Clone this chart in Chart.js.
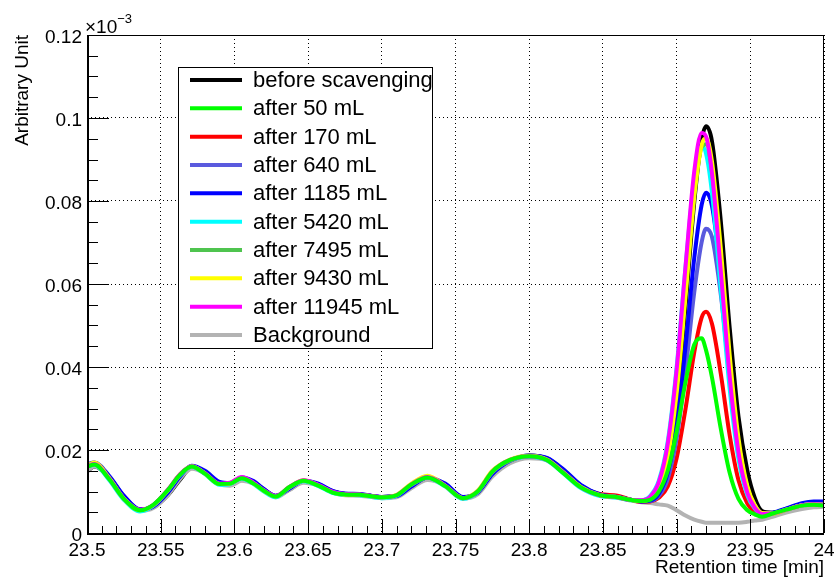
<!DOCTYPE html>
<html>
<head>
<meta charset="utf-8">
<script src="https://cdn.jsdelivr.net/npm/chart.js@4.4.1/dist/chart.umd.min.js"></script>
<style>
    html, body { margin: 0; padding: 0; background: #fff; }
    #wrap { width: 834px; height: 581px; }
</style>
</head>
<body>
<div id="wrap"><canvas id="chromatogram" width="834" height="581"></canvas></div>
<script>
// retention time [min], shared by every trace
const retentionTime = [
    23.500, 23.505, 23.515, 23.525, 23.536, 23.545, 23.555, 23.563, 23.571, 23.580,
    23.590, 23.597, 23.605, 23.613, 23.620, 23.628, 23.637, 23.647, 23.657, 23.667,
    23.675, 23.685, 23.700, 23.710, 23.720, 23.731, 23.743, 23.755, 23.765, 23.775,
    23.787, 23.800, 23.812, 23.823, 23.835, 23.848, 23.860, 23.868, 23.876, 23.882,
    23.888, 23.894, 23.900, 23.906, 23.912, 23.917, 23.920, 23.924, 23.930, 23.936,
    23.942, 23.948, 23.953, 23.958, 23.965, 23.975, 23.985, 23.993, 24.000
];

// signal in units of 1e-3
const beforeScavenging = [
    0.0148, 0.0160, 0.0135, 0.0088, 0.0056, 0.0062, 0.0092, 0.0128, 0.0157, 0.0146,
    0.0120, 0.0117, 0.0128, 0.0122, 0.0105, 0.0089, 0.0104, 0.0124, 0.0117, 0.0100,
    0.0094, 0.0093, 0.0087, 0.0089, 0.0111, 0.0132, 0.0117, 0.0086, 0.0096, 0.0140,
    0.0172, 0.0187, 0.0180, 0.0152, 0.0114, 0.0092, 0.0087, 0.0081, 0.0077, 0.0081,
    0.0105, 0.0172, 0.0317, 0.0544, 0.0798, 0.0947, 0.0980, 0.0944, 0.0751, 0.0495,
    0.0280, 0.0150, 0.0085, 0.0053, 0.0049, 0.0058, 0.0068, 0.0071, 0.0070
];
const after50 = [
    0.0160, 0.0165, 0.0130, 0.0082, 0.0055, 0.0068, 0.0104, 0.0140, 0.0160, 0.0143,
    0.0118, 0.0119, 0.0132, 0.0119, 0.0102, 0.0088, 0.0110, 0.0126, 0.0114, 0.0097,
    0.0093, 0.0092, 0.0086, 0.0091, 0.0117, 0.0134, 0.0113, 0.0084, 0.0100, 0.0148,
    0.0176, 0.0185, 0.0176, 0.0145, 0.0110, 0.0091, 0.0086, 0.0080, 0.0077, 0.0080,
    0.0100, 0.0150, 0.0244, 0.0363, 0.0454, 0.0469, 0.0440, 0.0375, 0.0251, 0.0145,
    0.0082, 0.0055, 0.0045, 0.0039, 0.0047, 0.0057, 0.0066, 0.0068, 0.0066
];
const after170 = [
    0.0162, 0.0166, 0.0132, 0.0084, 0.0056, 0.0066, 0.0101, 0.0138, 0.0160, 0.0145,
    0.0119, 0.0120, 0.0133, 0.0121, 0.0104, 0.0089, 0.0108, 0.0126, 0.0116, 0.0099,
    0.0094, 0.0093, 0.0086, 0.0090, 0.0115, 0.0133, 0.0115, 0.0085, 0.0099, 0.0146,
    0.0175, 0.0185, 0.0178, 0.0150, 0.0113, 0.0094, 0.0090, 0.0081, 0.0075, 0.0076,
    0.0085, 0.0112, 0.0180, 0.0298, 0.0436, 0.0519, 0.0533, 0.0504, 0.0383, 0.0236,
    0.0127, 0.0071, 0.0051, 0.0041, 0.0047, 0.0057, 0.0067, 0.0069, 0.0068
];
const after640 = [
    0.0163, 0.0168, 0.0135, 0.0087, 0.0056, 0.0065, 0.0100, 0.0137, 0.0161, 0.0147,
    0.0121, 0.0120, 0.0133, 0.0122, 0.0104, 0.0089, 0.0107, 0.0126, 0.0117, 0.0099,
    0.0094, 0.0093, 0.0086, 0.0090, 0.0114, 0.0134, 0.0116, 0.0086, 0.0099, 0.0145,
    0.0175, 0.0186, 0.0179, 0.0151, 0.0114, 0.0092, 0.0087, 0.0080, 0.0076, 0.0077,
    0.0090, 0.0130, 0.0227, 0.0389, 0.0581, 0.0701, 0.0733, 0.0713, 0.0574, 0.0376,
    0.0208, 0.0107, 0.0066, 0.0048, 0.0048, 0.0059, 0.0070, 0.0073, 0.0073
];
const after1185 = [
    0.0165, 0.0170, 0.0138, 0.0090, 0.0057, 0.0064, 0.0098, 0.0136, 0.0162, 0.0150,
    0.0123, 0.0120, 0.0134, 0.0125, 0.0106, 0.0090, 0.0106, 0.0126, 0.0119, 0.0101,
    0.0095, 0.0094, 0.0087, 0.0089, 0.0112, 0.0134, 0.0119, 0.0087, 0.0097, 0.0142,
    0.0174, 0.0187, 0.0181, 0.0154, 0.0116, 0.0093, 0.0087, 0.0081, 0.0076, 0.0078,
    0.0095, 0.0145, 0.0260, 0.0448, 0.0663, 0.0791, 0.0820, 0.0788, 0.0622, 0.0399,
    0.0216, 0.0109, 0.0067, 0.0048, 0.0049, 0.0060, 0.0072, 0.0076, 0.0076
];
const after5420 = [
    0.0161, 0.0164, 0.0128, 0.0080, 0.0052, 0.0066, 0.0103, 0.0139, 0.0159, 0.0142,
    0.0116, 0.0118, 0.0131, 0.0118, 0.0100, 0.0086, 0.0109, 0.0125, 0.0113, 0.0096,
    0.0092, 0.0091, 0.0084, 0.0090, 0.0116, 0.0133, 0.0112, 0.0082, 0.0099, 0.0147,
    0.0175, 0.0184, 0.0175, 0.0144, 0.0108, 0.0089, 0.0085, 0.0079, 0.0079, 0.0089,
    0.0127, 0.0221, 0.0399, 0.0639, 0.0854, 0.0932, 0.0914, 0.0820, 0.0587, 0.0347,
    0.0178, 0.0091, 0.0059, 0.0045, 0.0047, 0.0057, 0.0067, 0.0069, 0.0068
];
const after7495 = [
    0.0160, 0.0165, 0.0131, 0.0083, 0.0055, 0.0067, 0.0103, 0.0140, 0.0160, 0.0143,
    0.0118, 0.0119, 0.0132, 0.0120, 0.0102, 0.0088, 0.0109, 0.0126, 0.0115, 0.0098,
    0.0093, 0.0092, 0.0086, 0.0091, 0.0116, 0.0134, 0.0114, 0.0084, 0.0100, 0.0147,
    0.0175, 0.0185, 0.0177, 0.0147, 0.0111, 0.0091, 0.0086, 0.0080, 0.0078, 0.0084,
    0.0113, 0.0190, 0.0349, 0.0581, 0.0817, 0.0930, 0.0937, 0.0871, 0.0656, 0.0405,
    0.0213, 0.0107, 0.0065, 0.0047, 0.0047, 0.0057, 0.0067, 0.0069, 0.0068
];
const after9430 = [
    0.0162, 0.0170, 0.0133, 0.0083, 0.0055, 0.0067, 0.0104, 0.0141, 0.0161, 0.0144,
    0.0118, 0.0120, 0.0133, 0.0120, 0.0102, 0.0088, 0.0110, 0.0127, 0.0115, 0.0098,
    0.0093, 0.0092, 0.0086, 0.0092, 0.0119, 0.0138, 0.0114, 0.0084, 0.0102, 0.0150,
    0.0177, 0.0186, 0.0177, 0.0147, 0.0111, 0.0091, 0.0086, 0.0080, 0.0077, 0.0083,
    0.0109, 0.0183, 0.0336, 0.0567, 0.0810, 0.0935, 0.0951, 0.0895, 0.0685, 0.0429,
    0.0228, 0.0113, 0.0068, 0.0048, 0.0047, 0.0057, 0.0067, 0.0069, 0.0068
];
const after11945 = [
    0.0161, 0.0166, 0.0131, 0.0083, 0.0056, 0.0068, 0.0105, 0.0141, 0.0161, 0.0144,
    0.0119, 0.0121, 0.0135, 0.0121, 0.0103, 0.0089, 0.0110, 0.0127, 0.0116, 0.0099,
    0.0094, 0.0093, 0.0086, 0.0091, 0.0117, 0.0135, 0.0114, 0.0084, 0.0100, 0.0148,
    0.0176, 0.0185, 0.0176, 0.0146, 0.0110, 0.0091, 0.0086, 0.0080, 0.0079, 0.0087,
    0.0123, 0.0215, 0.0393, 0.0640, 0.0872, 0.0964, 0.0955, 0.0867, 0.0630, 0.0377,
    0.0194, 0.0097, 0.0061, 0.0046, 0.0047, 0.0057, 0.0067, 0.0069, 0.0068
];
const background = [
    0.0150, 0.0160, 0.0134, 0.0087, 0.0053, 0.0060, 0.0092, 0.0130, 0.0155, 0.0144,
    0.0117, 0.0114, 0.0126, 0.0119, 0.0103, 0.0086, 0.0103, 0.0121, 0.0114, 0.0097,
    0.0091, 0.0090, 0.0084, 0.0086, 0.0108, 0.0128, 0.0115, 0.0083, 0.0093, 0.0136,
    0.0168, 0.0180, 0.0175, 0.0148, 0.0112, 0.0090, 0.0085, 0.0079, 0.0074, 0.0072,
    0.0069, 0.0066, 0.0055, 0.0042, 0.0032, 0.0027, 0.0025, 0.0025, 0.0025, 0.0025,
    0.0025, 0.0027, 0.0030, 0.0032, 0.0039, 0.0050, 0.0058, 0.0062, 0.0063
];

const traceLabels = [
    "before scavenging", "after 50 mL", "after 170 mL", "after 640 mL", "after 1185 mL",
    "after 5420 mL", "after 7495 mL", "after 9430 mL", "after 11945 mL", "Background"
];
const traceValues = [
    beforeScavenging, after50, after170, after640, after1185,
    after5420, after7495, after9430, after11945, background
];
const traceColors = [
    "#000000", "#00ff00", "#ff0000", "#5a5ade", "#0000ff",
    "#00ffff", "#4fc44f", "#ffff00", "#ff00ff", "#b3b3b3"
];
// lower = drawn on top
const traceOrder = [9, 0, 7, 6, 5, 4, 3, 2, 1, 8];

const FONT = "'Liberation Sans', Arial, Helvetica, sans-serif";

const datasets = traceLabels.map((label, idx) => {
    return {
        label: label,
        data: retentionTime.map((t, i) => ({ x: t, y: traceValues[idx][i] })),
        borderColor: traceColors[idx],
        backgroundColor: traceColors[idx],
        borderWidth: 4,
        pointRadius: 0,
        cubicInterpolationMode: 'monotone',
        fill: false,
        order: traceOrder[idx]
    };
});

// ROOT style frame, inward ticks, exponent and legend box
const rootDecor = {
    id: 'rootDecor',
    afterDraw(chart)
    {
        const ctx = chart.ctx;
        const area = chart.chartArea;
        const xs = chart.scales.x;
        const ys = chart.scales.y;

        ctx.save();
        ctx.strokeStyle = '#000';
        ctx.lineWidth = 1;

        // y ticks: major every 0.02, minor every 0.005
        for (let k = 0; k <= 24; k++)
        {
            const py = Math.round(ys.getPixelForValue(k * 0.005)) + 0.5;
            const len = (k % 4 === 0) ? 22 : 11;
            ctx.beginPath();
            ctx.moveTo(area.left, py);
            ctx.lineTo(area.left + len, py);
            ctx.stroke();
        }
        // x ticks: major every 0.05, minor every 0.01
        for (let k = 0; k <= 50; k++)
        {
            const px = Math.round(xs.getPixelForValue(23.5 + k * 0.01)) + 0.5;
            const len = (k % 5 === 0) ? 14 : 7;
            ctx.beginPath();
            ctx.moveTo(px, area.bottom);
            ctx.lineTo(px, area.bottom - len);
            ctx.stroke();
        }

        // frame
        ctx.strokeRect(area.left + 0.5, area.top + 0.5, area.right - area.left - 1, area.bottom - area.top);
        ctx.lineWidth = 2;
        ctx.beginPath();
        ctx.moveTo(area.left + 1, area.top);
        ctx.lineTo(area.left + 1, area.bottom + 1);
        ctx.lineTo(area.right, area.bottom + 1);
        ctx.stroke();

        // exponent
        ctx.fillStyle = '#000';
        ctx.textBaseline = 'alphabetic';
        ctx.textAlign = 'left';
        ctx.font = '19px ' + FONT;
        ctx.fillText('\u00d710', area.left - 2, area.top - 2);
        const w = ctx.measureText('\u00d710').width;
        ctx.font = '13px ' + FONT;
        ctx.fillText('\u22123', area.left - 2 + w, area.top - 12);

        // legend
        const box = { left: 178, top: 67, right: 432, bottom: 348 };
        ctx.fillStyle = '#fff';
        ctx.fillRect(box.left, box.top, box.right - box.left, box.bottom - box.top);
        ctx.lineWidth = 1;
        ctx.strokeRect(box.left + 0.5, box.top + 0.5, box.right - box.left, box.bottom - box.top);
        ctx.font = '22px ' + FONT;
        ctx.textBaseline = 'middle';
        const step = (box.bottom - box.top - 26) / (traceLabels.length - 1);
        chart.data.datasets.forEach((ds, i) => {
            const cy = box.top + 13 + step * i;
            ctx.strokeStyle = ds.borderColor;
            ctx.lineWidth = 4;
            ctx.beginPath();
            ctx.moveTo(190, cy);
            ctx.lineTo(242, cy);
            ctx.stroke();
            ctx.fillStyle = '#000';
            ctx.fillText(ds.label, 253, cy + 1);
        });
        ctx.restore();
    }
};

const chromatogram = new Chart(document.getElementById('chromatogram').getContext('2d'), {
    type: 'line',
    data: { datasets: datasets },
    plugins: [rootDecor],
    options: {
        responsive: false,
        animation: false,
        devicePixelRatio: 1,
        layout: { padding: { left: 0, top: 35, right: 10, bottom: 0 } },
        plugins: {
            legend: { display: false },
            tooltip: { enabled: false }
        },
        scales: {
            x: {
                type: 'linear',
                min: 23.5,
                max: 24,
                afterFit: function(scale)
                {
                    scale.height = 48;
                    scale.paddingLeft = 0;
                    scale.paddingRight = 0;
                },
                border: { display: false, dash: [1, 3] },
                grid: { color: '#000', lineWidth: 1, drawTicks: false },
                ticks: {
                    stepSize: 0.05,
                    autoSkip: false,
                    maxRotation: 0,
                    padding: 6,
                    color: '#000',
                    font: { family: FONT, size: 19 },
                    callback: value => String(+value.toFixed(2))
                },
                title: {
                    display: true,
                    text: 'Retention time [min]',
                    align: 'end',
                    color: '#000',
                    font: { family: FONT, size: 19 },
                    padding: { top: 0, bottom: 2 }
                }
            },
            y: {
                min: 0,
                max: 0.12,
                afterFit: function(scale)
                {
                    scale.width = 87;
                    scale.paddingTop = 0;
                    scale.paddingBottom = 0;
                },
                border: { display: false, dash: [1, 3] },
                grid: { color: '#000', lineWidth: 1, drawTicks: false },
                ticks: {
                    stepSize: 0.02,
                    padding: 5,
                    labelOffset: 3,
                    color: '#000',
                    font: { family: FONT, size: 19 },
                    callback: value => String(+value.toFixed(3))
                },
                title: {
                    display: true,
                    text: 'Arbitrary Unit',
                    align: 'end',
                    color: '#000',
                    font: { family: FONT, size: 19 },
                    padding: { top: 11, bottom: 0 }
                }
            }
        }
    }
});
</script>
</body>
</html>
